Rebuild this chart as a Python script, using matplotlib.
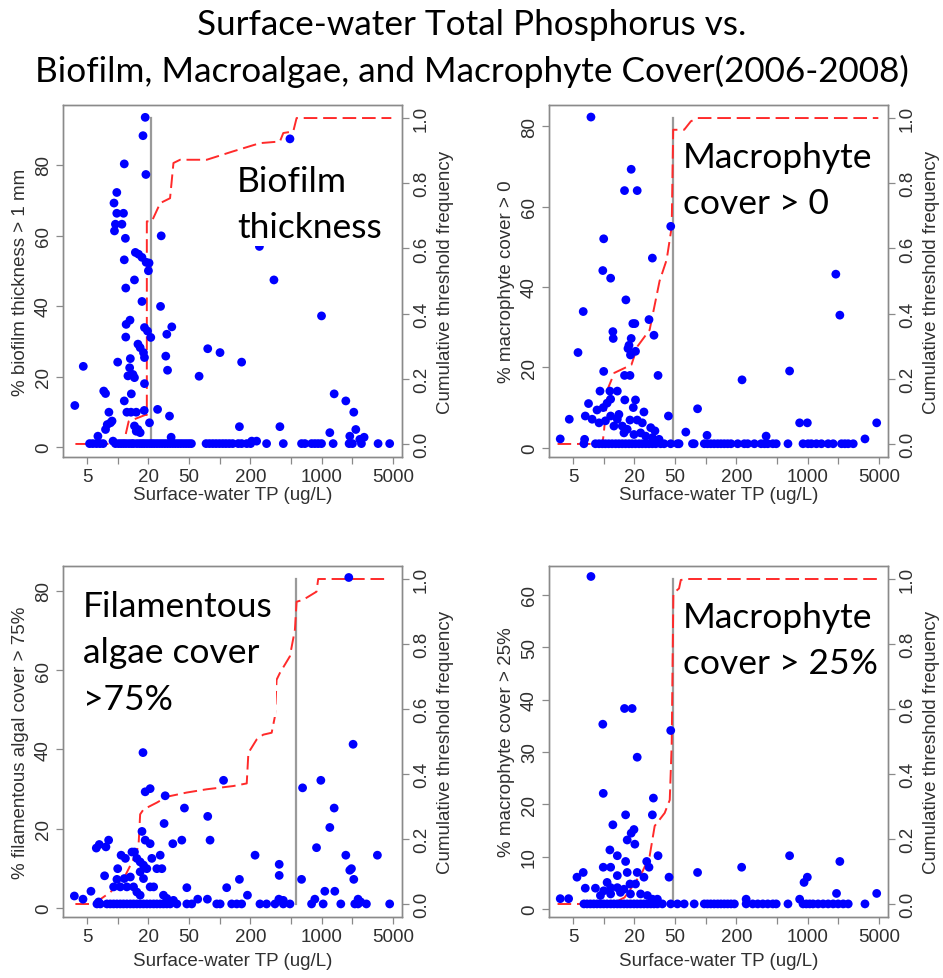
import matplotlib
matplotlib.use("Agg")
import matplotlib.pyplot as plt

# ---------------------------------------------------------------------------
# data: surface-water TP (ug/L) vs. % of samples over each cover threshold
# ---------------------------------------------------------------------------
FLOOR_PCT = 1  # row of sites where the threshold was never exceeded

# biofilm thickness > 1 mm
bio_tp = [18.6, 17.7, 11.6, 18.9, 9.2, 9.8, 9.8, 11.4, 9.5, 11.0, 9.3, 11.9, 26.7,
          14.9, 16.0, 17.3, 19.0, 20.3, 20.0, 11.6, 245, 12.0, 14.6, 17.3, 26.3,
          12.1, 13.2, 18.3, 19.6, 21.1, 12.0, 30.3, 33.9, 15.8, 16.6, 17.9, 18.3,
          13.3, 29.6, 30.8, 10.0, 4.6, 76.3, 100.7, 164, 62.8, 13.1, 12.6, 14.1,
          14.6, 18.3, 7.3, 7.6, 11.6, 13.6, 3.8, 12.3, 13.5, 15.2, 18.2, 8.2, 24.6,
          32.2, 20.5, 7.9, 8.5, 8.8, 7.6, 14.6, 15.2, 15.8, 16.6, 6.4, 33.4, 9.0,
          995, 1324, 1722, 2061, 2157, 1884, 2602, 2360, 1200, 389, 340, 488,
          389, 156, 230, 206]
bio_pct = [93.5, 88.3, 80.3, 77.3, 69.2, 72.2, 66.3, 66.3, 63.2, 63.2, 61.3, 59.2, 59.9,
           55.2, 54.7, 53.8, 52.4, 52.2, 50.0, 53.1, 56.9, 45.1, 47.4, 41.3, 39.9,
           34.8, 36.0, 33.9, 32.9, 31.1, 31.2, 32.0, 34.1, 29.2, 28.2, 26.8, 25.4,
           25.1, 25.8, 21.8, 24.1, 22.9, 27.9, 26.8, 24.1, 20.1, 22.5, 20.2, 20.6,
           19.7, 18.0, 15.9, 15.2, 13.1, 15.1, 11.8, 9.9, 9.9, 9.9, 10.4, 9.9, 10.7,
           8.8, 6.9, 6.4, 6.9, 7.4, 5.0, 6.0, 4.5, 5.0, 4.1, 3.1, 2.8, 1.7,
           37.2, 15.1, 13.1, 9.9, 5.0, 3.1, 2.8, 2.2, 4.1, 71.5, 47.4, 87.4,
           5.8, 5.8, 1.7, 1.7]
bio_floor_tp = [5.3, 5.7, 6.2, 6.7, 7.2, 9.5, 10.2, 10.8, 11.4, 12.1, 12.9, 13.7, 14.3,
                15.4, 16.4, 17.3, 18.2, 19.3, 20.5, 21.6, 22.8, 24.2, 25.7, 27.3, 29.0,
                30.8, 32.7, 34.7, 36.8, 39.1, 41.5, 44.1, 46.9, 49.8, 52.8, 73.5, 79.3,
                85.5, 92.1, 99.3, 107, 115, 124, 134, 152, 164, 184, 201, 288, 420, 634,
                684, 795, 856, 922, 995, 1294, 1855, 2000, 2450, 3566, 4634]
bio_cum_tp = [3.85, 11.4, 12.8, 18.6, 19.3, 19.3, 21.6, 26.1, 32.6, 35.2, 40.9, 74.6,
              136, 248, 389, 420, 526, 567, 4810]
bio_cum_freq = [0.0, 0.0, 0.069, 0.089, 0.089, 0.683, 0.683, 0.739, 0.754, 0.862, 0.872,
                0.872, 0.898, 0.923, 0.928, 0.954, 0.959, 1.0, 1.0]
bio_thresh = 21

# macrophyte cover > 0
mac0_tp = [7.5, 18.6, 16.0, 21.3, 45.4, 10.0, 9.8, 11.7, 30.0, 16.5, 27.8, 19.3, 20.2,
           12.3, 12.4, 18.6, 17.7, 17.3, 20.5, 18.3, 5.6, 6.3, 31.1, 10.0, 16.0, 18.1,
           34.1, 9.2, 11.5, 13.6, 11.7, 16.1, 20.5, 7.1, 8.6, 9.9, 10.8, 19.5, 24.8,
           6.6, 7.7, 9.0, 11.7, 13.6, 14.1, 18.1, 21.3, 23.9, 28.9, 31.8, 43.1, 4.6,
           83.2, 63.8, 227, 664, 833, 991, 1885, 2064, 4742, 103, 391, 3639, 3.75,
           6.5, 10.4, 12.6, 15.2, 15.8, 17.0, 19.8, 23.0, 25.8, 30.0, 34.9]
mac0_pct = [82.3, 69.3, 64.0, 64.0, 55.1, 52.0, 44.1, 42.2, 47.2, 36.8, 31.9, 30.9, 30.9,
            28.9, 27.2, 27.2, 25.5, 24.7, 24.0, 23.1, 23.7, 33.9, 28.0, 19.0, 18.0, 18.0,
            18.0, 14.1, 14.1, 14.1, 12.1, 11.9, 11.9, 11.0, 9.4, 10.0, 11.1, 10.0, 8.9,
            7.9, 7.1, 6.2, 7.9, 7.1, 8.3, 6.9, 6.9, 6.2, 5.0, 4.2, 7.9, 7.1,
            9.7, 3.9, 16.9, 19.1, 6.2, 6.2, 43.2, 33.0, 6.2, 3.1, 2.9, 2.2, 2.2,
            2.1, 6.7, 5.4, 5.4, 3.7, 4.6, 3.3, 3.7, 2.9, 2.5, 2.1]
mac0_floor_tp = [6.4, 8.3, 9.0, 9.7, 10.4, 11.2, 12.1, 13.1, 14.1, 15.2, 16.4, 17.7, 19.0,
                 20.5, 22.2, 23.9, 25.8, 27.8, 30.0, 32.4, 36.2, 39.1, 45.4, 52.8, 54.8,
                 74.2, 77.1, 96.8, 104, 112, 121, 131, 141, 152, 164, 177, 206, 239,
                 258, 300, 349, 377, 406, 455, 491, 640, 899, 1007, 1086, 1216, 1362,
                 1585, 1775, 2143, 2312, 2494, 2793]
mac0_cum_tp = [3.53, 9.7, 10.0, 11.0, 12.7, 18.7, 21.5, 28.2, 35.3, 41.4, 46.4, 48.0,
               61.5, 71.5, 83.2, 4920]
mac0_cum_freq = [0.0, 0.0, 0.03, 0.17, 0.218, 0.243, 0.30, 0.35, 0.50, 0.565, 0.666,
                 0.964, 0.964, 0.990, 1.0, 1.0]
mac0_thresh = 48

# filamentous algal cover > 75%
alg_tp = [1841, 191, 17.7, 2029, 18.6, 20.8, 29.2, 109, 980, 649, 45.1, 1324, 76.3,
          28.5, 1200, 17.3, 18.6, 20.8, 34.7, 42.5, 80.4, 8.15, 6.6, 7.67, 6.17, 889,
          222, 1722, 3512, 383, 383, 1884, 1955, 2061, 634, 156, 117, 47.6, 1072,
          1343, 187, 3.76, 4.57, 5.47, 7.44, 10.0, 10.8, 11.9, 13.8, 14.6, 15.4,
          16.6, 17.9, 19.3, 21.6, 26.1, 24.2, 27.1, 9.83, 11.6, 13.3, 16.6, 17.9,
          20.8, 22.5, 9.12, 10.6, 12.3, 14.3, 6.5, 15.4, 16.6, 28.1, 30.3, 35.2,
          60.9, 75.7, 380, 420, 856, 2271, 2412]
alg_pct = [83.4, 50.1, 39.2, 41.3, 29.3, 30.1, 28.3, 32.2, 32.2, 30.3, 25.2, 25.2, 23.1,
           21.3, 20.3, 19.3, 17.1, 16.2, 16.2, 17.1, 17.1, 17.1, 16.0, 15.4, 15.1, 15.2,
           13.3, 13.3, 13.3, 11.0, 8.2, 9.5, 9.9, 7.2, 7.2, 7.2, 5.1, 5.1, 4.2,
           4.2, 3.2, 3.0, 2.2, 4.2, 8.1, 9.9, 13.3, 12.5, 14.1, 14.1, 12.5,
           11.6, 10.8, 9.9, 12.5, 13.3, 9.9, 9.9, 7.2, 7.4, 7.8, 9.1, 7.4,
           5.3, 5.3, 5.3, 5.3, 5.3, 5.3, 1.5, 4.0, 3.2, 3.2, 2.4, 1.9,
           2.2, 2.2, 2.2, 1.9, 2.2, 2.2, 1.5]
alg_floor_tp = [6.26, 6.75, 7.85, 8.46, 9.12, 9.83, 10.6, 11.4, 12.3, 13.3, 14.3, 15.4,
                16.6, 17.9, 19.3, 20.8, 22.5, 24.2, 26.1, 28.1, 30.3, 32.7, 38.0, 47.6,
                53.2, 93.5, 101, 131, 147, 164, 248, 288, 348, 420, 488, 795, 1033,
                1538, 2108, 2271, 2740, 4634]
alg_cum_tp = [3.85, 5.81, 8.45, 11.4, 14.3, 16.0, 16.6, 17.9, 24.2, 30.3, 47.6, 74.6,
              136, 184, 191, 230, 267, 323, 348, 361, 389, 487, 546, 567, 658, 889,
              923, 4630]
alg_cum_freq = [0.0, 0.0, 0.036, 0.077, 0.138, 0.179, 0.276, 0.291, 0.312, 0.330, 0.343,
                0.353, 0.363, 0.371, 0.465, 0.506, 0.521, 0.527, 0.578, 0.690, 0.711,
                0.762, 0.844, 0.930, 0.936, 0.961, 1.0, 1.0]
alg_thresh = 560

# macrophyte cover > 25%
mac25_tp = [7.5, 16.0, 19.0, 9.8, 45.4, 21.3, 9.9, 30.7, 30.0, 16.4, 12.3, 19.8, 18.6,
            17.0, 20.2, 11.5, 13.6, 34.1, 664, 2064, 225, 9.9, 11.7, 16.4, 17.0, 21.3,
            26.4, 27.8, 83.2, 6.3, 5.47, 43.7, 991, 920, 10.8, 13.6, 18.1, 20.5, 24.8,
            6.6, 8.3, 10.0, 11.7, 13.6, 15.8, 3.75, 4.53, 9.29, 11.7, 14.6, 18.3, 23.0,
            26.8, 30.0, 33.6, 249, 1915, 4742, 833]
mac25_pct = [63.5, 38.3, 38.3, 35.3, 34.1, 29.0, 22.1, 21.2, 18.0, 18.0, 16.1, 15.2, 14.5,
             13.2, 12.4, 11.3, 10.2, 10.2, 10.2, 9.1, 8.0, 8.0, 8.0, 9.1, 7.0, 7.0,
             9.1, 8.0, 7.0, 7.0, 6.1, 6.1, 6.1, 5.1, 5.1, 6.4, 4.8, 4.8, 6.1,
             4.0, 4.0, 3.5, 4.1, 4.1, 3.8, 2.0, 2.0, 2.6, 2.9, 3.2, 2.9, 2.9,
             2.6, 1.9, 1.9, 1.9, 3.0, 3.0, 1.9]
mac25_floor_tp = [6.4, 6.87, 7.41, 7.99, 8.6, 9.29, 10.0, 10.8, 11.7, 12.6, 13.6, 14.6,
                  15.8, 17.0, 18.3, 19.8, 21.3, 23.0, 24.8, 26.8, 28.9, 31.1, 33.6, 37.6,
                  45.4, 52.8, 61.5, 77.1, 96.8, 104, 112, 121, 131, 141, 152, 164, 177,
                  191, 249, 289, 324, 363, 406, 455, 491, 640, 899, 969, 1045, 1127,
                  1263, 1415, 1585, 1775, 1987, 2228, 2494, 3639]
mac25_cum_tp = [3.53, 12.0, 16.0, 19.2, 24.0, 28.2, 31.6, 39.6, 44.4, 46.4, 47.2, 48.2,
                54.8, 57.0, 66.3, 4920]
mac25_cum_freq = [0.0, 0.0, 0.02, 0.055, 0.10, 0.147, 0.24, 0.28, 0.32, 0.49, 0.70,
                  0.956, 0.971, 0.997, 1.0, 1.0]
mac25_thresh = 48

x_ticks = [5, 10, 20, 50, 100, 200, 500, 1000, 2000, 5000]
x_tick_labels = ["5", "", "20", "50", "", "200", "", "1000", "", "5000"]
freq_ticks = [0.0, 0.2, 0.4, 0.6, 0.8, 1.0]

# ---------------------------------------------------------------------------
FRAME = "#8a8a8a"
TICK_TXT = "#303030"
DOT = "#0000ff"
RED = "#ff2a2a"
VLINE = "#9a9a9a"
AXIS_FONT = "Liberation Sans"
LABEL_FONT = "Lato"
AX_FS = 13.5

W, H = 943, 979
fig = plt.figure(figsize=(W / 100, H / 100), dpi=100)


def px_axes(left, top, right, bottom):
    return fig.add_axes([left / W, 1 - bottom / H, (right - left) / W, (bottom - top) / H])


def panel(ax, tp, pct, floor_tp, cum_tp, cum_freq, thresh, ylabel, yticks, ylim,
          xlabelpad=1):
    ax2 = ax.twinx()
    ax.set_zorder(ax2.get_zorder() + 1)
    ax.patch.set_visible(False)

    ax.set_xscale("log")
    ax.set_xlim(2.91, 6120)
    ax.set_ylim(*ylim)
    ax2.set_ylim(-0.04, 1.04)

    # threshold line and cumulative frequency on the right-hand scale
    ax2.plot([thresh, thresh], [0, 1], color=VLINE, lw=1.6, zorder=1)
    ax2.plot(cum_tp, cum_freq, color=RED, lw=1.4, ls=(0, (7, 3)), zorder=2)

    ax.scatter(tp, pct, s=40, color=DOT, edgecolors="none", zorder=3)
    ax.scatter(floor_tp, [FLOOR_PCT] * len(floor_tp), s=40, color=DOT,
               edgecolors="none", zorder=3)

    ax.set_xticks(x_ticks)
    ax.set_xticklabels(x_tick_labels)
    ax.xaxis.set_minor_locator(matplotlib.ticker.NullLocator())
    ax.set_yticks(yticks)
    ax.set_yticklabels([str(v) for v in yticks], rotation=90, va="center")
    ax2.set_yticks(freq_ticks)
    ax2.set_yticklabels([f"{v:.1f}" for v in freq_ticks], rotation=90, va="center")

    for a in (ax, ax2):
        for s in a.spines.values():
            s.set_color(FRAME)
            s.set_linewidth(1.0)
        a.tick_params(length=5, width=0.9, color=FRAME, labelcolor=TICK_TXT,
                      labelsize=AX_FS, pad=3)
        for lab in a.get_xticklabels() + a.get_yticklabels():
            lab.set_fontfamily(AXIS_FONT)

    ax.set_ylabel(ylabel, fontsize=AX_FS, family=AXIS_FONT, color=TICK_TXT, labelpad=4)
    ax2.set_ylabel("Cumulative threshold frequency", fontsize=AX_FS, family=AXIS_FONT,
                   color=TICK_TXT, rotation=90, labelpad=5)
    ax.set_xlabel("Surface-water TP (ug/L)", fontsize=AX_FS, family=AXIS_FONT,
                  color=TICK_TXT, labelpad=xlabelpad)
    return ax2


ax_a = px_axes(63, 106, 402, 458)
ax_b = px_axes(549, 106, 888, 458)
ax_c = px_axes(63, 567, 402, 918)
ax_d = px_axes(549, 567, 888, 918)

panel(ax_a, bio_tp, bio_pct, bio_floor_tp, bio_cum_tp, bio_cum_freq, bio_thresh,
      "% biofilm thickness > 1 mm", [0, 20, 40, 60, 80], (-2.8, 97))
panel(ax_b, mac0_tp, mac0_pct, mac0_floor_tp, mac0_cum_tp, mac0_cum_freq, mac0_thresh,
      "% macrophyte cover > 0", [0, 20, 40, 60, 80], (-2.3, 85.3))
panel(ax_c, alg_tp, alg_pct, alg_floor_tp, alg_cum_tp, alg_cum_freq, alg_thresh,
      "% filamentous algal cover > 75%", [0, 20, 40, 60, 80], (-2.3, 86.3),
      xlabelpad=5)
panel(ax_d, mac25_tp, mac25_pct, mac25_floor_tp, mac25_cum_tp, mac25_cum_freq,
      mac25_thresh, "% macrophyte cover > 25%", [0, 10, 20, 30, 40, 50, 60], (-1.5, 65.5),
      xlabelpad=5)

# panel captions, boxed in white over the data
captions = [
    (237, 166, "Biofilm\nthickness"),
    (683, 142, "Macrophyte\ncover > 0"),
    (83, 591, "Filamentous\nalgae cover\n>75%"),
    (683, 602, "Macrophyte\ncover > 25%"),
]
for x, y, txt in captions:
    fig.text(x / W, 1 - y / H, txt, ha="left", va="top", fontsize=25.5,
             family=LABEL_FONT, color="black", linespacing=1.55, zorder=10,
             bbox=dict(boxstyle="square,pad=0.08", facecolor="white", edgecolor="none"))

fig.text(0.5, 1 - 25 / H, "Surface-water Total Phosphorus vs.", ha="center",
         va="center", fontsize=25.3, family=LABEL_FONT)
fig.text(0.5, 1 - 71 / H, "Biofilm, Macroalgae, and Macrophyte Cover(2006-2008)",
         ha="center", va="center", fontsize=25.3, family=LABEL_FONT)

fig.savefig("out.png", dpi=100, facecolor="white")
